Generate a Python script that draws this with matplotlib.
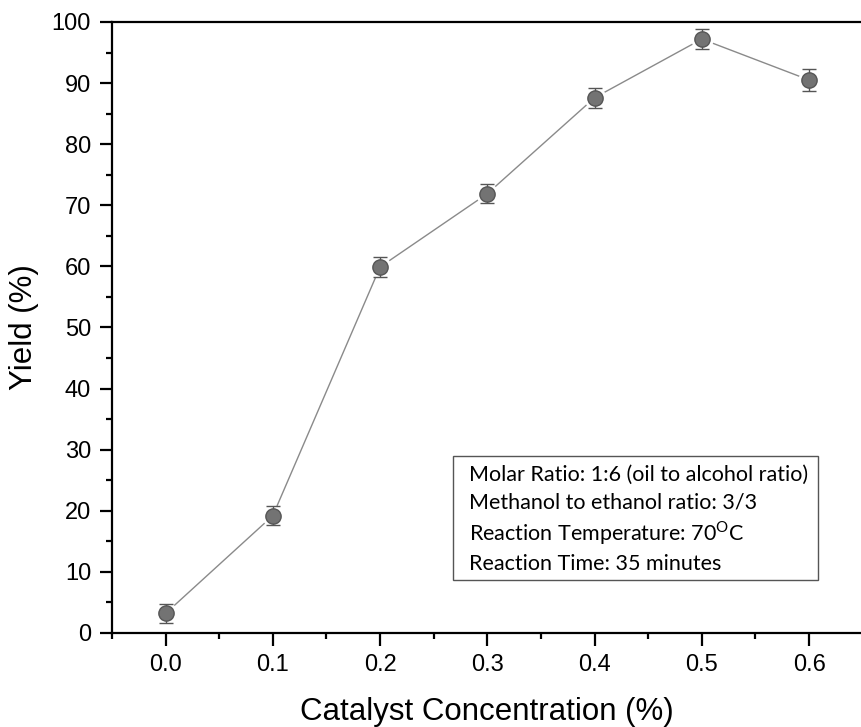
import matplotlib
matplotlib.use("Agg")
import matplotlib.pyplot as plt
from matplotlib.patches import Rectangle
from matplotlib.ticker import MultipleLocator

# data
conc = [0.0, 0.1, 0.2, 0.3, 0.4, 0.5, 0.6]
yield_pct = [3.2, 19.2, 59.9, 71.9, 87.6, 97.2, 90.5]
yield_err = [1.6, 1.6, 1.7, 1.5, 1.6, 1.6, 1.8]

notes = [
    "Molar Ratio: 1:6 (oil to alcohol ratio)",
    "Methanol to ethanol ratio: 3/3",
    "Reaction Temperature: 70$^{\\mathrm{O}}$C",
    "Reaction Time: 35 minutes",
]

plt.rcParams["font.family"] = ["Liberation Sans", "DejaVu Sans"]
plt.rcParams["mathtext.fontset"] = "custom"
plt.rcParams["mathtext.rm"] = "Lato"

fig = plt.figure(figsize=(8.61, 7.27), dpi=100)
ax = fig.add_axes([0.130, 0.1293, 0.872, 0.8405])

ax.plot(conc, yield_pct, color="#8a8a8a", lw=1.0, zorder=1)
# white halo so the line stops short of each marker
ax.plot(conc, yield_pct, "o", ms=15, mfc="white", mec="white", zorder=2)
ax.errorbar(conc, yield_pct, yerr=yield_err, fmt="o", ms=11,
            mfc="#737373", mec="#555555", mew=1.0,
            ecolor="#555555", elinewidth=1.0, capsize=5, capthick=1.0, zorder=3)

ax.set_xlim(-0.05, 0.65)
ax.set_ylim(0, 100)
ax.xaxis.set_major_locator(MultipleLocator(0.1))
ax.xaxis.set_minor_locator(MultipleLocator(0.05))
ax.yaxis.set_major_locator(MultipleLocator(10))
ax.yaxis.set_minor_locator(MultipleLocator(5))
ax.xaxis.set_major_formatter(plt.FuncFormatter(lambda v, p: f"{v:.1f}"))

for s in ["left", "bottom", "top"]:
    ax.spines[s].set_linewidth(1.6)
ax.spines["right"].set_visible(False)
ax.tick_params(which="major", direction="out", length=9, width=1.6, labelsize=17, pad=6)
ax.tick_params(which="minor", direction="out", length=4, width=1.6)
ax.tick_params(top=False, right=False, which="both")

ax.set_xlabel("Catalyst Concentration (%)", fontsize=22.5, labelpad=15)
ax.set_ylabel("Yield (%)", fontsize=22.5, labelpad=9)

# annotation box
ax.add_patch(Rectangle((0.454, 0.087), 0.486, 0.203, transform=ax.transAxes,
                       fc="white", ec="#555555", lw=1.0, zorder=4))
for line, yb in zip(notes, [0.249, 0.203, 0.151, 0.103]):
    ax.text(0.475, yb, line, transform=ax.transAxes, fontsize=15.5,
            family="Lato", va="baseline", ha="left", zorder=5)

fig.savefig("out.png", dpi=100)
